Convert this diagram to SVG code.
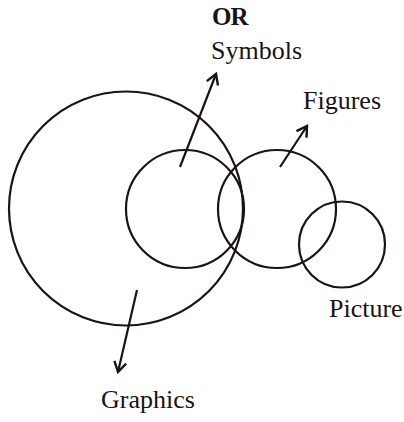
<svg xmlns="http://www.w3.org/2000/svg" width="404" height="422" viewBox="0 0 404 422">
<defs>
<style>
.c{fill:none;stroke:#1a1311;stroke-width:2.2}
.a{fill:none;stroke:#1a1311;stroke-width:2.2;marker-end:url(#ah)}
.t{font-family:"Liberation Serif","Times New Roman",serif;font-size:26px;fill:#1a1311}
.b{font-weight:bold;font-size:25px;letter-spacing:-1px}
</style>
<marker id="ah" viewBox="-12 -7 14 14" refX="0" refY="0" markerWidth="14" markerHeight="14" markerUnits="userSpaceOnUse" orient="auto">
<path d="M-10,-6 L0,0 L-10,6" fill="none" stroke="#1a1311" stroke-width="2.4" stroke-linejoin="miter"/>
</marker>
</defs>
<rect width="404" height="422" fill="#ffffff"/>
<g id="graphics"><circle class="c" cx="126" cy="208.5" r="117"/><text class="t" x="101" y="408">Graphics</text></g>
<g id="symbols"><circle class="c" cx="185" cy="209" r="59"/><text class="t b" x="212" y="25">OR</text><text class="t" x="211" y="59">Symbols</text></g>
<g id="figures"><circle class="c" cx="277" cy="209" r="59"/><text class="t" x="303" y="109">Figures</text></g>
<g id="picture"><circle class="c" cx="342" cy="244.5" r="43"/><text class="t" x="329" y="317">Picture</text></g>
<g id="connectors">
<line class="a" x1="180" y1="167" x2="216" y2="74"/>
<line class="a" x1="280" y1="167" x2="307" y2="126"/>
<line class="a" x1="137" y1="290" x2="118" y2="372"/>
</g>
</svg>
